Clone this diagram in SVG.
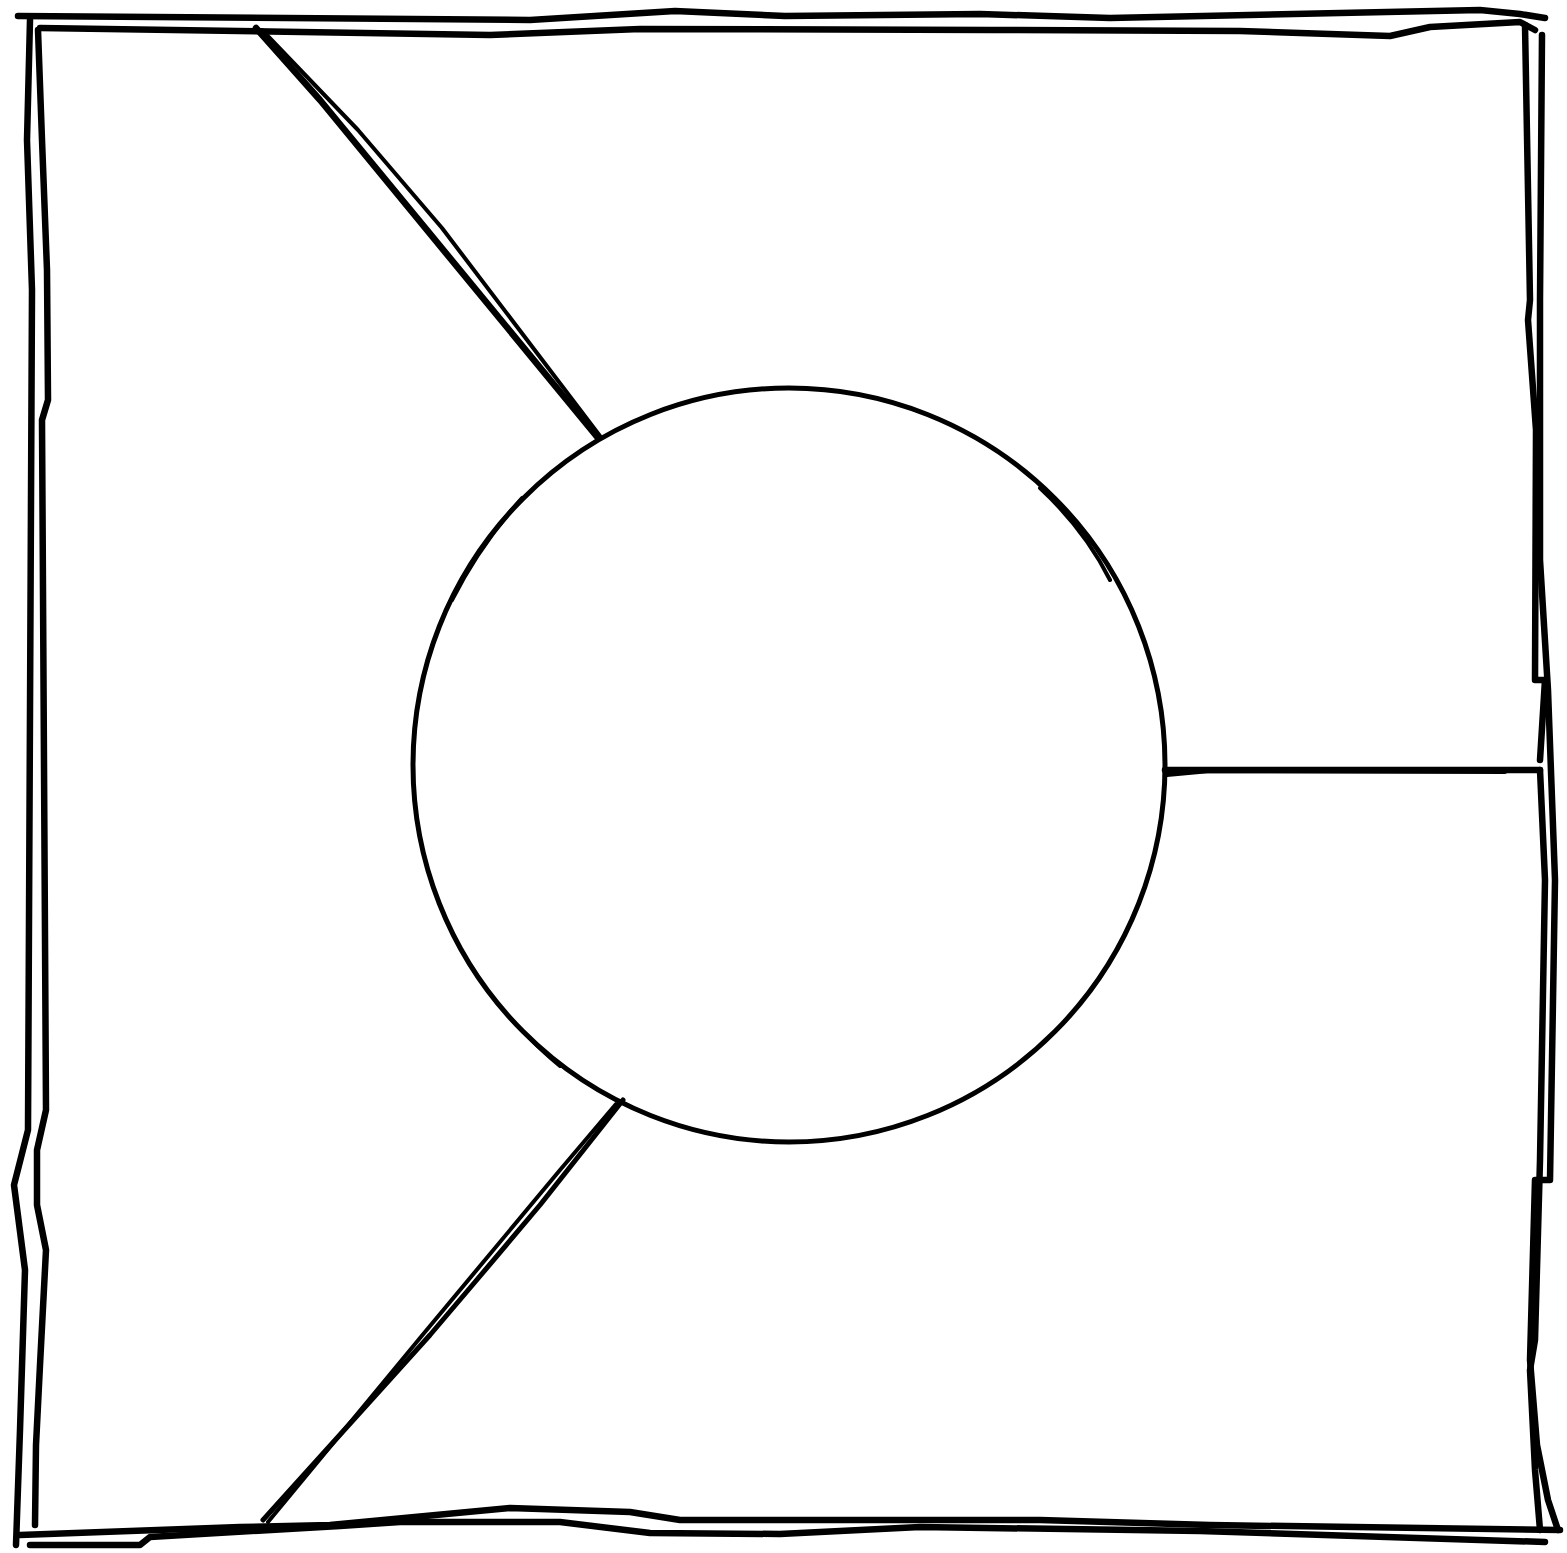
<svg xmlns="http://www.w3.org/2000/svg" width="1567" height="1553" viewBox="0 0 1567 1553">
<style>
.s{fill:none;stroke:#000;stroke-linejoin:round;stroke-linecap:round}
.t{stroke-width:6.5}
.m{stroke-width:5}
.n{stroke-width:4}
</style>
<rect width="1567" height="1553" fill="#fff"/>
<g id="frame">
<path class="s t" d="M18,16 L530,20 L675,11 L785,16 L980,14 L1110,18 L1480,10 L1520,14 L1545,18"/>
<path class="s t" d="M40,28 L490,35 L640,29 L990,30 L1240,31 L1390,36 L1430,27 L1520,22 L1535,30"/>
<path class="s t" d="M30,20 L27,140 L32,290 L28,1130 L14,1185 L25,1270 L20,1430 L16,1545"/>
<path class="s t" d="M38,30 L42,140 L47,270 L48,400 L42,420 L46,1110 L37,1150 L37,1205 L46,1250 L40,1365 L36,1445 L35,1525"/>
<path class="s t" d="M1525,25 L1530,300 L1528,320 L1536,430 L1535,680 L1545,680 L1540,760"/>
<path class="s t" d="M1542,35 L1540,300 L1540,560 L1548,690 L1555,880 L1550,1180 L1535,1180 L1530,1360 L1537,1445 L1548,1500 L1558,1530"/>
<path class="s t" d="M1540,770 L1545,880 L1540,1160 L1535,1340 L1530,1370 L1535,1470 L1540,1530"/>
<path class="s t" d="M20,1535 L240,1527 L330,1525 L510,1508 L630,1512 L680,1520 L1040,1520 L1210,1525 L1560,1530"/>
<path class="s t" d="M30,1545 L140,1545 L150,1537 L340,1526 L400,1522 L560,1522 L650,1533 L780,1534 L920,1527 L1200,1531 L1545,1542"/>
</g>
<g id="circle">
<ellipse class="s m" cx="789" cy="765" rx="376" ry="377"/>
<path class="s n" d="M522,498 Q480,545 452,600"/>
<path class="s n" d="M1040,488 Q1085,530 1110,580"/>
<path class="s n" d="M512,1020 Q540,1050 560,1066"/>
</g>
<g id="connectors">
<path class="s t" d="M256,28 L320,100 L598,438"/>
<path class="s n" d="M262,30 L358,130 L442,228 L600,436"/>
<path class="s t" d="M1165,770 L1250,770 L1540,770"/>
<path class="s n" d="M1167,775 L1210,771 L1505,772"/>
<path class="s m" d="M623,1100 L540,1205 L475,1282 L430,1335 L263,1520"/>
<path class="s n" d="M616,1104 L560,1170 L420,1338 L268,1522"/>
</g>
</svg>
